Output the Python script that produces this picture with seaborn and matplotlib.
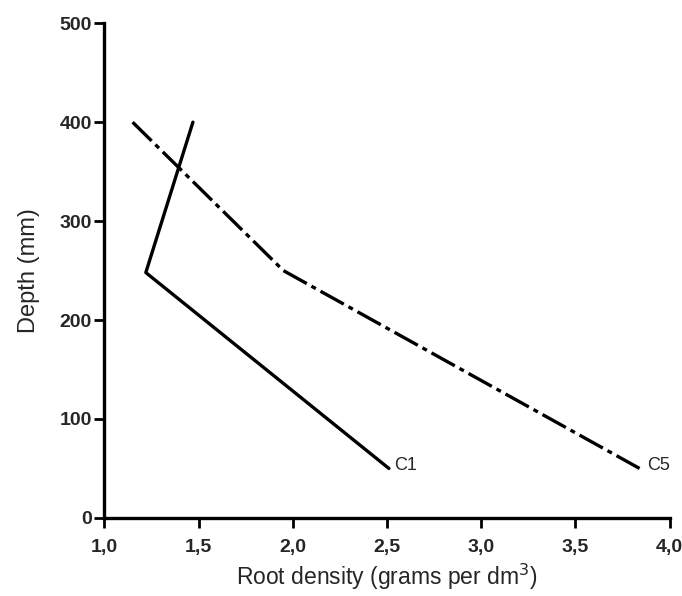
import pandas as pd
import numpy as np
import matplotlib
matplotlib.use('Agg')
import matplotlib.pyplot as plt
import seaborn as sns

# root density (g per dm3) vs depth (mm)
c1_density = [1.47, 1.22, 2.51]
c1_depth = [400, 248, 50]
c5_density = [1.15, 1.95, 3.84]
c5_depth = [400, 250, 50]

xticks = [1.0, 1.5, 2.0, 2.5, 3.0, 3.5, 4.0]
xtick_labels = ['1,0', '1,5', '2,0', '2,5', '3,0', '3,5', '4,0']
yticks = [0, 100, 200, 300, 400, 500]

sns.set_style('ticks')
plt.rcParams['font.family'] = ['Liberation Sans', 'DejaVu Sans']

c1 = pd.DataFrame({'density': c1_density, 'depth': c1_depth})
c5 = pd.DataFrame({'density': c5_density, 'depth': c5_depth})

fig = plt.figure(figsize=(6.82, 5.96), dpi=100)
ax = fig.add_axes([0.153, 0.131, 0.829, 0.830])

sns.lineplot(data=c1, x='density', y='depth', sort=False, estimator=None,
             color='black', lw=2.4, ax=ax)
sns.lineplot(data=c5, x='density', y='depth', sort=False, estimator=None,
             color='black', lw=2.4, ax=ax)
ax.lines[1].set_linestyle((0, (8, 1.6, 1.5, 1.6)))

ax.text(c1_density[-1] + 0.03, c1_depth[-1] + 3, 'C1', fontsize=13, va='center', ha='left')
ax.text(c5_density[-1] + 0.04, c5_depth[-1] + 3, 'C5', fontsize=13, va='center', ha='left')

ax.set_xlim(1.0, 4.0)
ax.set_ylim(0, 500)
ax.set_xticks(xticks)
ax.set_xticklabels(xtick_labels, fontsize=14, fontweight='bold')
ax.set_yticks(yticks)
ax.set_yticklabels([str(t) for t in yticks], fontsize=14, fontweight='bold')
ax.tick_params(width=2, length=7, direction='out', color='black')
ax.tick_params(axis='x', pad=8)
ax.tick_params(axis='y', pad=2)

for s in ['left', 'bottom']:
    ax.spines[s].set_linewidth(2.4)
    ax.spines[s].set_color('black')
sns.despine(ax=ax)

ax.set_xlabel('Root density (grams per dm$^3$)', fontsize=16.5, labelpad=4)
ax.set_ylabel('Depth (mm)', fontsize=17, labelpad=14)

fig.savefig('out.png', dpi=100)
